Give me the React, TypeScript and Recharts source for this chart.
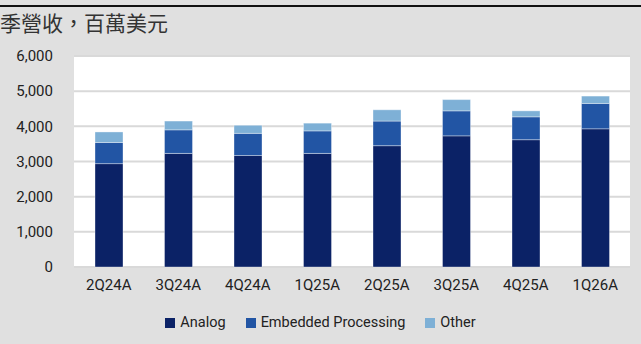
import React from 'react';
import { BarChart, Bar, XAxis, YAxis, CartesianGrid, Legend } from 'recharts';

const quarters = ['2Q24A', '3Q24A', '4Q24A', '1Q25A', '2Q25A', '3Q25A', '4Q25A', '1Q26A'];
const analog = [2940, 3230, 3170, 3230, 3450, 3730, 3620, 3930];
const embedded = [600, 670, 630, 640, 700, 710, 650, 720];
const other = [300, 250, 230, 220, 320, 320, 170, 210];
const yTicks = [0, 1000, 2000, 3000, 4000, 5000, 6000];

const data = quarters.map((q, i) => ({
  q,
  analog: analog[i],
  embedded: embedded[i],
  other: other[i],
}));

const series = [
  { key: 'analog', name: 'Analog', color: '#0b2266' },
  { key: 'embedded', name: 'Embedded Processing', color: '#2255a4' },
  { key: 'other', name: 'Other', color: '#7eb0d6' },
];

const font = 'Roboto, "Noto Sans CJK TC", sans-serif';

const LegendContent = () => (
  <div style={{ display: 'flex', justifyContent: 'center', gap: 20, fontFamily: font, fontSize: 14.5, color: '#222' }}>
    {series.map((s) => (
      <div key={s.key} style={{ display: 'flex', alignItems: 'center' }}>
        <span style={{ width: 10, height: 10, background: s.color, marginRight: 5, display: 'inline-block' }} />
        {s.name}
      </div>
    ))}
  </div>
);

export default function App() {
  return (
    <div style={{ position: 'absolute', left: 0, top: 0, width: 641, height: 344, background: '#e0e0e0', overflow: 'hidden' }}>
      <div style={{ position: 'absolute', left: 0, top: 5, width: 641, height: 2, background: '#111' }} />
      <div style={{ position: 'absolute', left: 0, top: 10, fontFamily: font, fontSize: 21, color: '#333', lineHeight: '28px' }}>
        季營收，百萬美元
      </div>
      <div style={{ position: 'absolute', left: 0, top: 0 }}>
        <BarChart width={641} height={344} data={data} margin={{ top: 56, right: 11, bottom: 47, left: 0 }}>
          <CartesianGrid vertical={false} stroke="#d9d9d9" strokeWidth={2} fill="#ffffff" />
          <XAxis
            dataKey="q"
            height={30}
            axisLine={false}
            tickLine={false}
            tickSize={0}
            tickMargin={12}
            tick={{ fontSize: 15, fill: '#222', fontFamily: font }}
          />
          <YAxis
            width={74}
            domain={[0, 6000]}
            ticks={yTicks}
            axisLine={false}
            tickLine={false}
            tickSize={0}
            tickMargin={21}
            tickFormatter={(v: number) => v.toLocaleString('en-US')}
            tick={{ fontSize: 15, fill: '#222', fontFamily: font }}
          />
          <Legend
            layout="horizontal"
            verticalAlign="middle"
            align="center"
            wrapperStyle={{ top: 314, left: 0, width: 641 }}
            content={<LegendContent />}
          />
          {series.map((s) => (
            <Bar
              key={s.key}
              dataKey={s.key}
              name={s.name}
              stackId="a"
              fill={s.color}
              stroke="rgba(255,255,255,0.35)"
              strokeWidth={1}
              barSize={28}
              isAnimationActive={false}
            />
          ))}
        </BarChart>
      </div>
    </div>
  );
}
